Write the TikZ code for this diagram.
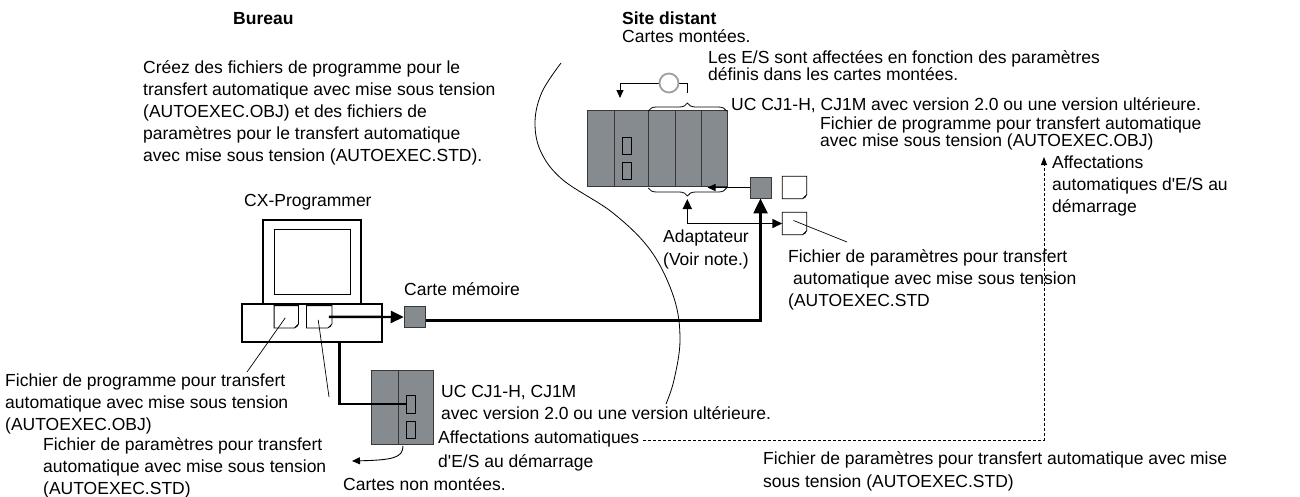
\documentclass[tikz,border=0pt]{standalone}
\usepackage{fontspec}
\setmainfont{Liberation Sans}
\usetikzlibrary{arrows.meta,decorations.pathreplacing}
\definecolor{unitgray}{RGB}{134,139,144}
\definecolor{edgegray}{RGB}{55,55,55}
\definecolor{ringgray}{RGB}{155,160,165}
% strut that fixes the first baseline 13pt below a label's top edge
\newcommand\tp{\rule{0pt}{13pt}}
% straight apostrophe
\newcommand\apos{\textquotesingle}
% sheet-of-paper icon drawn over a named placeholder node
\newcommand\docicon[1]{%
  \draw[line width=0.8pt, fill=white] (#1.north west) -- (#1.north east)
     -- ([yshift=4pt]#1.south east) -- ([xshift=-4pt]#1.south east) -- (#1.south west) -- cycle;
  \fill ([yshift=4pt]#1.south east) -- ([xshift=-4pt]#1.south east)
     -- ([xshift=-1.2pt,yshift=1.2pt]#1.south east) -- cycle;}
\begin{document}
\lineskiplimit=-100pt
\begin{tikzpicture}[x=1pt,y=-1pt,
  lbl/.style={inner sep=0pt, anchor=north west, align=left,
    font=\fontsize{17.5}{22}\selectfont},
  tightlbl/.style={lbl, font=\fontsize{17.5}{17}\selectfont},
  headlbl/.style={lbl, font=\fontsize{17.5}{22}\selectfont\bfseries},
  unitbox/.style={fill=unitgray, draw=edgegray, line width=0.9pt, inner sep=0pt},
  card/.style={unitbox, minimum width=21pt, minimum height=21pt},
  led/.style={draw=black, line width=0.8pt, fill=unitgray, inner sep=0pt},
  docbox/.style={inner sep=0pt, minimum width=24pt, minimum height=22pt},
  frame/.style={draw=black, line width=2pt, inner sep=0pt},
  heavy/.style={line width=2.4pt},
  heavyarrow/.style={heavy, -{Triangle[length=13pt,width=12pt]}},
  medarrow/.style={line width=1.4pt, {Triangle[length=10pt,width=9pt]}-{Triangle[length=10pt,width=9pt]}},
  thinarrow/.style={line width=0.9pt, -{Triangle[length=8pt,width=7pt]}},
  leader/.style={line width=0.7pt},
  bracemark/.style={line width=0.8pt, decorate, decoration={brace, amplitude=8pt}}
]
\useasboundingbox (0,0) rectangle (1300,496);

% ---------- headings and explanatory text ----------
\node[headlbl] (bureau) at (233,11) {\tp Bureau};
\node[headlbl] (site) at (622,11) {\tp Site distant};
\node[lbl] (create) at (143,60) {\tp Créez des fichiers de programme pour le\\
  transfert automatique avec mise sous tension\\
  (AUTOEXEC.OBJ) et des fichiers de\\
  paramètres pour le transfert automatique\\
  avec mise sous tension (AUTOEXEC.STD).};
\node[lbl] (mounted) at (622,29) {\tp Cartes montées.};
\node[tightlbl] (ioset) at (708,50) {\tp Les E/S sont affectées en fonction des paramètres\\
  définis dans les cartes montées.};
\node[lbl] (cpuremote) at (731,97) {\tp UC CJ1-H, CJ1M avec version 2.0 ou une version ultérieure.};
\node[tightlbl] (objremote) at (820,116) {\tp Fichier de programme pour transfert automatique\\
  avec mise sous tension (AUTOEXEC.OBJ)};
\node[lbl] (autoright) at (1052,155) {\tp Affectations\\automatiques d\apos E/S au\\démarrage};
\node[lbl] (cxp) at (244,193) {\tp CX-Programmer};
\node[lbl, font=\fontsize{17.5}{23}\selectfont] (adapt) at (663,229) {\tp Adaptateur\\(Voir note.)};
\node[lbl] (memlbl) at (404,282) {\tp Carte mémoire};
\node[lbl] (stdremote) at (788,249) {\tp Fichier de paramètres pour transfert\\
  \hspace{5pt}automatique avec mise sous tension\\
  (AUTOEXEC.STD};
\node[lbl] (objleft) at (5,373) {\tp Fichier de programme pour transfert\\
  automatique avec mise sous tension\\(AUTOEXEC.OBJ)};
\node[lbl] (stdleft) at (43,437) {\tp Fichier de paramètres pour transfert\\
  automatique avec mise sous tension\\(AUTOEXEC.STD)};
\node[lbl] (cpulocal) at (441,384) {\tp UC CJ1-H, CJ1M\\avec version 2.0 ou une version ultérieure.};
\node[lbl, font=\fontsize{17.5}{24}\selectfont] (autolocal) at (438,430) {\tp Affectations automatiques\\d\apos E/S au démarrage};
\node[lbl] (unmounted) at (343,477) {\tp Cartes non montées.};
\node[lbl, font=\fontsize{17.5}{23}\selectfont] (stdbottom) at (763,451) {\tp Fichier de paramètres pour transfert automatique avec mise\\
  sous tension (AUTOEXEC.STD)};

% ---------- office / remote boundary ----------
\draw[line width=0.8pt] plot[smooth, tension=0.6] coordinates {(561,63) (542,92) (535,122) (541,152) (563,180) (613,213) (651,251) (674,298) (680,340) (674,380) (666,404)};

% ---------- computer ----------
\node[frame, minimum width=97.7pt, minimum height=84pt] (monitor) at (312.2,262) {};
\node[draw=black, line width=1pt, inner sep=0pt, minimum width=75.7pt, minimum height=65pt] (screen) at (312.2,261.8) {};
\node[frame, minimum width=140.6pt, minimum height=38pt] (pcbase) at (312,323) {};
\node[docbox] (pf1) at (286.3,316.8) {};
\node[docbox, minimum width=25pt] (pf2) at (319.2,316.8) {};
\docicon{pf1}
\docicon{pf2}

% ---------- memory card ----------
\node[card] (mcard) at (414.7,317) {};

% ---------- local CPU unit ----------
\node[unitbox, minimum width=62.3pt, minimum height=74pt] (cpulocalbox) at (402.2,407) {};
\draw[edgegray, line width=0.9pt] (cpulocalbox.north -| 398,0) -- (cpulocalbox.south -| 398,0);
\node[led, minimum width=9pt, minimum height=18pt] (ledA) at (410.5,404) {};
\node[led, minimum width=9pt, minimum height=17pt] (ledB) at (410.5,430) {};

% ---------- remote rack ----------
\node[unitbox, minimum width=140.4pt, minimum height=76pt] (rack) at (657.5,148.5) {};
\foreach \sx in {614,648.3,675.7,701.7}
  \draw[edgegray, line width=0.9pt] (rack.north -| \sx,0) -- (rack.south -| \sx,0);
\node[led, minimum width=8.3pt, minimum height=16.7pt] (ledC) at (626.9,145.7) {};
\node[led, minimum width=8.3pt, minimum height=16.7pt] (ledD) at (626.9,170.7) {};
\node[card] (rcard) at (760.5,187.5) {};
\node[docbox] (rf1) at (794.5,187.5) {};
\node[docbox] (rf2) at (794.5,223.5) {};
\docicon{rf1}
\docicon{rf2}

% braces over and under the three I/O slots
\draw[bracemark] (648.3,111) -- (726.5,111);
\draw[bracemark] (726.5,188) -- (648.3,188);
\coordinate (toptip) at (687.3,93);
\coordinate (bottip) at (687.3,199);
\coordinate (rackdrop) at (620,98);
\coordinate (rackin) at (707.5,187.5);

% ---------- connectors ----------
% mounted-card loop above the rack
\draw[thinarrow] (toptip) -- ++(0,-10) -| (rackdrop);
\node[circle, draw=ringgray, fill=white, line width=1.8pt, minimum size=19pt, inner sep=0pt] (ring) at (669,83) {};

% memory card carried from the computer to the remote rack
\draw[heavyarrow] ([xshift=-3pt]pf2.east) -- (mcard.west);
\draw[heavy, -{Triangle[length=15pt,width=14pt]}] ([yshift=-3.5pt]mcard.east) -| (rcard.south);
\draw[thinarrow] (rcard.west) -- (rackin);

% adapter link
\draw[medarrow] (bottip) |- (rf2.west);

% computer to the local CPU
\coordinate (pcdrop) at (339.3,342);
\draw[heavy] (pcdrop) |- (ledA.west);
\coordinate (cpuout) at (403,446);
\coordinate (cpuarr) at (352,461);
\draw[thinarrow] (cpuout) .. controls (403,458) and (392,460) .. (cpuarr);

% automatic I/O allocation at start-up (dashed)
\coordinate (dashstart) at (643,440);
\coordinate (dashend) at (1044,157);
\draw[line width=0.8pt, dash pattern=on 3pt off 2pt, -{Triangle[length=8pt,width=6pt]}] (dashstart) -| (dashend);

% leader lines
\coordinate (objleftpt) at (247,372);
\coordinate (stdleftpt) at (329,397);
\coordinate (stdremotept) at (847,242);
\draw[leader] ([xshift=-1pt,yshift=-1pt]pf1.center) -- (objleftpt);
\draw[leader] ([xshift=-1pt,yshift=-3pt]pf2.center) -- (stdleftpt);
\draw[leader] ([xshift=-1pt,yshift=3pt]rf2.center) -- (stdremotept);
\end{tikzpicture}
\end{document}
